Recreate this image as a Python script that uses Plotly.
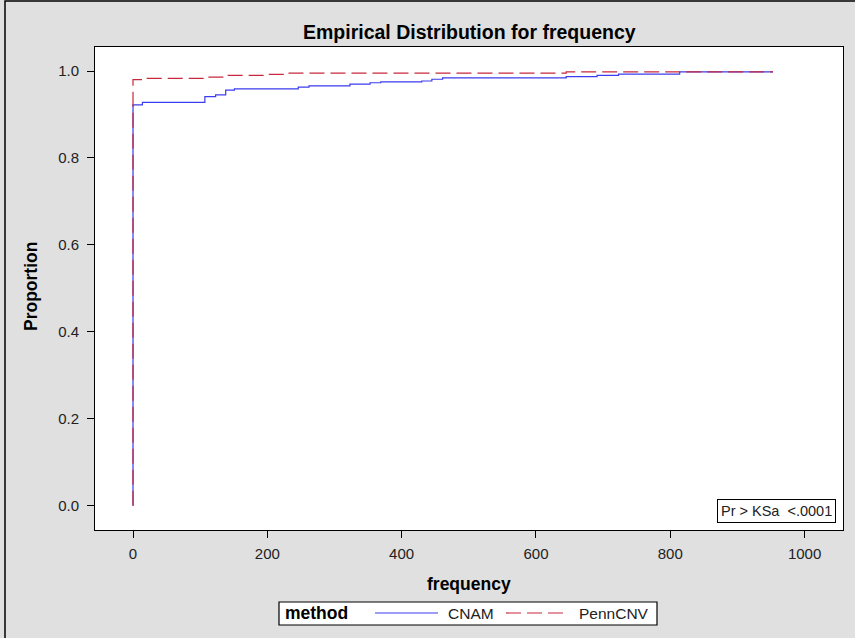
import plotly.graph_objects as go

# Empirical CDF step points (frequency, cumulative proportion) per method
cnam_freq = [0, 0, 14, 107, 123, 138, 151, 246, 262, 323, 353, 369, 430, 445, 461, 645, 691, 723, 814, 953]
cnam_prop = [0.0, 0.922, 0.928, 0.941, 0.945, 0.956, 0.959, 0.963, 0.966, 0.970, 0.973, 0.975,
             0.977, 0.981, 0.984, 0.987, 0.990, 0.993, 0.998, 0.998]

penn_freq = [0, 0, 14, 107, 138, 201, 231, 645, 953]
penn_prop = [0.0, 0.980, 0.983, 0.986, 0.990, 0.992, 0.995, 0.998, 0.998]

x_ticks = [0, 200, 400, 600, 800, 1000]
y_ticks = [0.0, 0.2, 0.4, 0.6, 0.8, 1.0]

title_text = "Empirical Distribution for frequency"
x_title = "frequency"
y_title = "Proportion"
legend_title = "method"
series_names = ["CNAM", "PennCNV"]
ks_text = "Pr &gt; KSa&nbsp;&nbsp;&lt;.0001"

BLUE = "#3c3cf0"
RED = "#c8283c"
FONT = "Liberation Sans, Arial, sans-serif"

W, H = 855, 638
ML, MR, MT, MB = 95, 12, 47, 108
PW = W - ML - MR
PH = H - MT - MB


def px_x(px):
    return (px - ML) / PW


def px_y(py):
    return (H - MB - py) / PH


fig = go.Figure()
fig.add_trace(go.Scatter(x=cnam_freq, y=cnam_prop, mode="lines", line_shape="hv",
                         line=dict(color=BLUE, width=1.2), name=series_names[0], showlegend=False))
fig.add_trace(go.Scatter(x=penn_freq, y=penn_prop, mode="lines", line_shape="hv",
                         line=dict(color=RED, width=1.2, dash="15px,6px"), name=series_names[1],
                         showlegend=False))

axis_common = dict(showline=True, linecolor="black", linewidth=1, mirror=True,
                   ticks="outside", ticklen=7, tickcolor="black", tickwidth=1,
                   showgrid=False, zeroline=False,
                   tickfont=dict(family=FONT, size=15, color="#222222"))

fig.update_xaxes(range=[-56.6, 1057.2], tickvals=x_ticks, ticklabelstandoff=3, **axis_common)
fig.update_yaxes(range=[-0.0559, 1.0552], tickvals=y_ticks, tickformat=".1f",
                 ticklabelstandoff=5, **axis_common)

annotations = [
    dict(text="<b>%s</b>" % title_text, x=0.5, y=px_y(32), xref="paper", yref="paper",
         showarrow=False, xanchor="center", yanchor="middle",
         font=dict(family=FONT, size=19.5, color="black")),
    dict(text="<b>%s</b>" % x_title, x=0.5, y=px_y(584), xref="paper", yref="paper",
         showarrow=False, xanchor="center", yanchor="middle",
         font=dict(family=FONT, size=17.5, color="black")),
    dict(text="<b>%s</b>" % y_title, x=px_x(31), y=px_y(287), xref="paper", yref="paper",
         showarrow=False, xanchor="center", yanchor="middle", textangle=-90,
         font=dict(family=FONT, size=17.5, color="black")),
    dict(text=ks_text, x=px_x(836), y=px_y(523), xref="paper", yref="paper",
         showarrow=False, xanchor="right", yanchor="bottom",
         bgcolor="white", bordercolor="black", borderwidth=1, borderpad=3,
         font=dict(family=FONT, size=14.5, color="#222222")),
    # legend entries
    dict(text="<b>%s</b>" % legend_title, x=px_x(283), y=px_y(613), xref="paper", yref="paper",
         showarrow=False, xanchor="left", yanchor="middle",
         font=dict(family=FONT, size=17.5, color="black")),
    dict(text=series_names[0], x=px_x(446), y=px_y(613), xref="paper", yref="paper",
         showarrow=False, xanchor="left", yanchor="middle",
         font=dict(family=FONT, size=15.5, color="#222222")),
    dict(text=series_names[1], x=px_x(577), y=px_y(613), xref="paper", yref="paper",
         showarrow=False, xanchor="left", yanchor="middle",
         font=dict(family=FONT, size=15.5, color="#222222")),
]

shapes = [
    # outer frame of the graph
    dict(type="rect", xref="paper", yref="paper", x0=px_x(5), x1=px_x(870), y0=px_y(650), y1=px_y(1),
         line=dict(color="black", width=1.5), fillcolor="rgba(0,0,0,0)", layer="below"),
    # legend box and line samples
    dict(type="rect", xref="paper", yref="paper", x0=px_x(279), x1=px_x(657), y0=px_y(625), y1=px_y(602),
         line=dict(color="black", width=1.2), fillcolor="white"),
    dict(type="line", xref="paper", yref="paper", x0=px_x(375), x1=px_x(438), y0=px_y(613), y1=px_y(613),
         line=dict(color=BLUE, width=1.2)),
    dict(type="line", xref="paper", yref="paper", x0=px_x(506), x1=px_x(566), y0=px_y(613), y1=px_y(613),
         line=dict(color=RED, width=1.2, dash="15px,6px")),
]

fig.update_layout(
    width=W, height=H, autosize=False,
    margin=dict(l=ML, r=MR, t=MT, b=MB, pad=0),
    paper_bgcolor="#e0e0e0", plot_bgcolor="white",
    annotations=annotations, shapes=shapes, showlegend=False,
    font=dict(family=FONT),
)

fig.write_html("out.html", config={"displayModeBar": False})
